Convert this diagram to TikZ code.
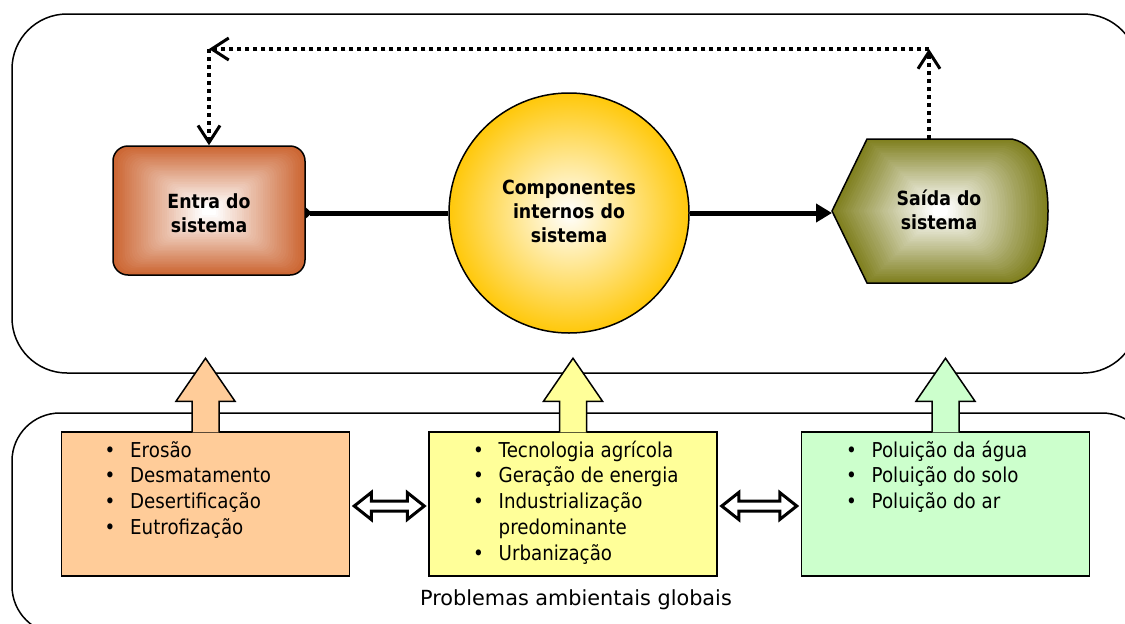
\documentclass[tikz,border=0pt]{standalone}
\usepackage{fontspec}
\setmainfont{DejaVu Sans}
\newfontfamily\narrowfont{DejaVu Sans}[FakeStretch=0.89]
\usetikzlibrary{arrows.meta,calc}
\definecolor{entracol}{RGB}{204,102,51}
\definecolor{circcol}{RGB}{255,200,10}
\definecolor{saidacol}{RGB}{128,128,32}
\definecolor{boxA}{RGB}{255,204,153}
\definecolor{boxB}{RGB}{255,255,153}
\definecolor{boxC}{RGB}{204,255,204}
\tikzset{
  frame/.style={draw, line width=1.5pt},
  lbl/.style={font=\narrowfont\bfseries\fontsize{19.5}{24}\selectfont, align=center, inner sep=0},
  probbox/.style={draw, line width=1.5pt, minimum width=288, minimum height=144, inner sep=0},
  bul/.style={font=\narrowfont\fontsize{20.5}{25.8}\selectfont, inner sep=0, anchor=base west},
  uparrow/.style={line width=1.5pt, line join=miter},
  dbl/.style={draw, line width=3pt, fill=white, line join=miter},
  fb/.style={line width=3.5pt, dash pattern=on 4pt off 4pt, -{Straight Barb[length=17pt,width=22pt,line width=3pt]}},
  thickconn/.style={line width=5pt},
}
\newcommand{\bl}{\makebox[25.5pt][l]{•}}
\begin{document}
\begin{tikzpicture}[x=1pt,y=-1pt]
\useasboundingbox (0,0) rectangle (1125,624);
\clip (0,0) rectangle (1125,624);

% big frames
\draw[frame, rounded corners=55] (12,14) rectangle (1138,373);
\draw[frame, rounded corners=48] (12,413) rectangle (1150,634);

% Entra gradient
\foreach \i in {0,...,40}{
  \pgfmathsetmacro\s{1-\i/41}
  \pgfmathtruncatemacro\p{min(100,100*\i/38)}
  \pgfmathsetmacro\r{15*\s}
  \fill[white!\p!entracol, rounded corners=\r pt] ({209-96*\s},{210.5-64.5*\s}) rectangle ({209+96*\s},{210.5+64.5*\s});
}
\node[draw, line width=1.5pt, rounded corners=15, minimum width=192, minimum height=129, inner sep=0] (entra) at (209,210.5) {};
\node[lbl] (entraT) at (209,213) {Entra do\\sistema};

% circle
\node[circle, draw, line width=1.5pt, minimum size=240, inner sep=0, inner color=white, outer color=circcol] (circ) at (569,213) {};
\node[lbl] (circT) at (569,211) {Componentes\\internos do\\sistema};

% Saida gradient
\foreach \i in {0,...,40}{
  \pgfmathsetmacro\s{1-\i/41}
  \pgfmathtruncatemacro\p{min(100,100*\i/38)}
  \fill[white!\p!saidacol, shift={(940,211)}, scale=\s] (-108,0) -- (-73,-72) -- (72,-72) .. controls (100,-66) and (108,-32) .. (108,0) .. controls (108,32) and (100,66) .. (72,72) -- (-73,72) -- cycle;
}
\draw[line width=1.5pt, line join=miter, shift={(940,211)}] (-108,0) -- (-73,-72) -- (72,-72) .. controls (100,-66) and (108,-32) .. (108,0) .. controls (108,32) and (100,66) .. (72,72) -- (-73,72) -- cycle;
\node[lbl] (saida) at (939,210) {Saída do\\sistema};
\coordinate (saidaW) at (832,213);
\coordinate (saidaN) at (929,139);

% main connectors
\draw[thickconn, {Triangle[reversed,length=6pt,width=11pt]}-] (entra.east |- circ.west) -- (circ.west);
\draw[thickconn, -{Triangle[length=16pt,width=18pt]}] (circ.east) -- (saidaW);

% feedback
\coordinate (fbR) at (929,49);
\coordinate (fbL) at (entra.north |- fbR);
\draw[fb] (saidaN) -- (fbR);
\draw[fb] (fbR) -- (fbL);
\draw[fb] (fbL) -- (entra.north);

% bottom boxes
\node[probbox, fill=boxA] (pa) at (205.5,504) {};
\node[probbox, fill=boxB] (pb) at (573,504) {};
\node[probbox, fill=boxC] (pc) at (945.5,504) {};

% up arrows
\foreach \b/\c in {pa/boxA, pb/boxB, pc/boxC}{
  \filldraw[uparrow, fill=\c] ($(\b.north)+(-13.5,1)$) -- ++(0,-31) -- ++(-16,0) -- ($(\b.north)+(0,-73)$) -- ($(\b.north)+(29.5,-30)$) -- ++(-16,0) -- ($(\b.north)+(13.5,1)$);
}

% double arrows
\path (pa.east) ++(4,2) coordinate (d1a);
\path (pb.west) ++(-4,2) coordinate (d1b);
\path (pb.east) ++(4,2) coordinate (d2a);
\path (pc.west) ++(-4,2) coordinate (d2b);
\foreach \a/\b in {d1a/d1b, d2a/d2b}{
  \draw[dbl] let \p1=(\a), \p2=(\b) in (\p1) -- (\x1+17pt,\y1+13.5pt) -- (\x1+17pt,\y1+5pt) -- (\x2-17pt,\y2+5pt) -- (\x2-17pt,\y2+13.5pt) -- (\p2) -- (\x2-17pt,\y2-13.5pt) -- (\x2-17pt,\y2-5pt) -- (\x1+17pt,\y1-5pt) -- (\x1+17pt,\y1-13.5pt) -- cycle;
}

% bullet texts
\node[bul] (ta) at (104.5,457) {\begin{tabular}[t]{@{}l@{}}\bl Erosão\\ \bl Desmatamento\\ \bl Desertificação\\ \bl Eutrofização\end{tabular}};
\node[bul] (tb) at (473,457) {\begin{tabular}[t]{@{}l@{}}\bl Tecnologia agrícola\\ \bl Geração de energia\\ \bl Industrialização\\ \hspace*{25.5pt}predominante\\ \bl Urbanização\end{tabular}};
\node[bul] (tc) at (846,457) {\begin{tabular}[t]{@{}l@{}}\bl Poluição da água\\ \bl Poluição do solo\\ \bl Poluição do ar\end{tabular}};

\node[font=\fontsize{20.8}{25}\selectfont, anchor=base, inner sep=0] (prob) at (576,605) {Problemas ambientais globais};
\end{tikzpicture}
\end{document}
